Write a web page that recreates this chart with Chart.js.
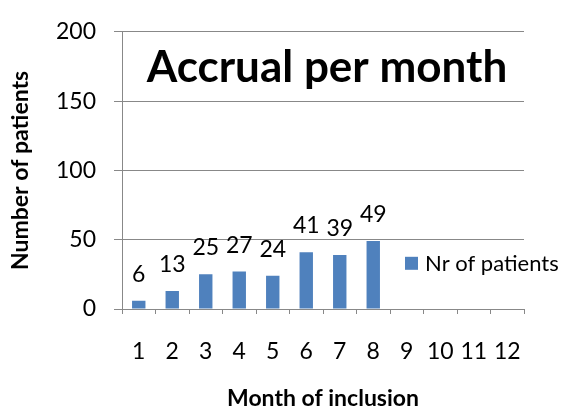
<!DOCTYPE html>
<html>
<head>
<meta charset="utf-8">
<script src="https://cdn.jsdelivr.net/npm/chart.js@4/dist/chart.umd.min.js"></script>
<style>
  html, body { margin: 0; padding: 0; background: #fff; }
  #wrap { width: 562px; height: 409px; }
</style>
</head>
<body>
<div id="wrap"><canvas id="barChart" width="562" height="409"></canvas></div>
<script>
const months = ['1', '2', '3', '4', '5', '6', '7', '8', '9', '10', '11', '12'];
const patients = [6, 13, 25, 27, 24, 41, 39, 49];
const seriesName = 'Nr of patients';
const chartTitle = 'Accrual per month';
const xTitle = 'Month of inclusion';
const yTitle = 'Number of patients';

const FONT = 'Lato';
const GRID = '#888888';

// title drawn inside the plot area, like the Excel original
const insideTitle = {
  id: 'insideTitle',
  afterDraw(chart) {
    const { ctx, chartArea } = chart;
    ctx.save();
    ctx.font = 'bold 44px ' + FONT;
    ctx.fillStyle = '#000';
    ctx.textAlign = 'center';
    ctx.textBaseline = 'alphabetic';
    ctx.fillText(chartTitle, (chartArea.left + chartArea.right) / 2 + 4, chartArea.top + 50);
    ctx.restore();
  },
};

// value labels above the bars
const barValues = {
  id: 'barValues',
  afterDatasetsDraw(chart) {
    const { ctx } = chart;
    const meta = chart.getDatasetMeta(0);
    ctx.save();
    ctx.font = '23px ' + FONT;
    ctx.fillStyle = '#000';
    ctx.textAlign = 'center';
    ctx.textBaseline = 'alphabetic';
    meta.data.forEach((bar, i) => {
      ctx.fillText(String(chart.data.datasets[0].data[i]), bar.x, bar.y - 19);
    });
    ctx.restore();
  },
};

// legend overlapping the right of the plot area
const sideLegend = {
  id: 'sideLegend',
  afterDraw(chart) {
    const { ctx, chartArea } = chart;
    const ds = chart.data.datasets[0];
    const x = chartArea.right - 119;
    const y = chartArea.top + 231;
    ctx.save();
    ctx.fillStyle = ds.backgroundColor;
    ctx.fillRect(x, y - 6, 13, 13);
    ctx.font = '22px ' + FONT;
    ctx.fillStyle = '#000';
    ctx.textAlign = 'left';
    ctx.textBaseline = 'middle';
    ctx.fillText(ds.label, x + 20, y + 1);
    ctx.restore();
  },
};

new Chart(document.getElementById('barChart'), {
  type: 'bar',
  data: {
    labels: months,
    datasets: [
      {
        label: seriesName,
        data: patients,
        backgroundColor: '#4F81BD',
        borderWidth: 0,
        categoryPercentage: 1,
        barPercentage: 0.4,
      },
    ],
  },
  options: {
    responsive: false,
    animation: false,
    layout: {
      padding: { left: 0, right: 38, top: 23, bottom: 0 },
    },
    scales: {
      x: {
        afterFit(scale) {
          scale.height = 100;
        },
        grid: {
          offset: true,
          drawOnChartArea: false,
          drawTicks: true,
          tickLength: 5,
          color: GRID,
        },
        border: { color: GRID },
        ticks: {
          color: '#000',
          padding: 24,
          font: { family: FONT, size: 23 },
        },
        title: {
          display: true,
          text: xTitle,
          color: '#000',
          font: { family: FONT, size: 23, weight: 'bold' },
          padding: { top: 0, bottom: -3 },
        },
      },
      y: {
        min: 0,
        max: 200,
        afterFit(scale) {
          scale.width = 122;
        },
        grid: {
          color: GRID,
          tickLength: 8,
        },
        border: { color: GRID },
        ticks: {
          stepSize: 50,
          color: '#000',
          padding: 18,
          font: { family: FONT, size: 23 },
        },
        title: {
          display: true,
          text: yTitle,
          color: '#000',
          font: { family: FONT, size: 23, weight: 'bold' },
          padding: { top: 7, bottom: 0 },
        },
      },
    },
    plugins: {
      legend: { display: false },
      tooltip: { enabled: false },
    },
  },
  plugins: [insideTitle, barValues, sideLegend],
});
</script>
</body>
</html>
